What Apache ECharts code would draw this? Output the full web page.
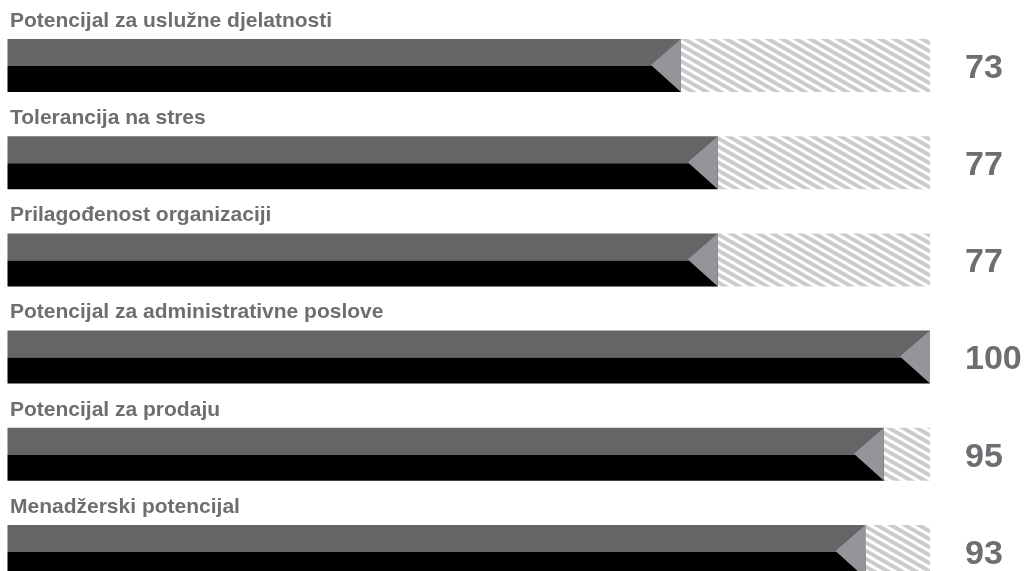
<!DOCTYPE html>
<html>
<head>
<meta charset="utf-8">
<script src="https://cdn.jsdelivr.net/npm/echarts@6/dist/echarts.min.js"></script>
<style>
html,body{margin:0;padding:0;background:#fff;}
#chart{width:1028px;height:571px;}
</style>
</head>
<body>
<div id="chart"></div>
<script>
const categories = [
  'Potencijal za uslužne djelatnosti',
  'Tolerancija na stres',
  'Prilagođenost organizaciji',
  'Potencijal za administrativne poslove',
  'Potencijal za prodaju',
  'Menadžerski potencijal'
];
const values = [73, 77, 77, 100, 95, 93];
const maxValue = 100;

// hatch pattern tile (diagonal stripes, ~30 degrees, going down to the right)
function makeHatch() {
  const w = 14, h = 8;
  const c = document.createElement('canvas');
  c.width = w; c.height = h;
  const ctx = c.getContext('2d');
  ctx.fillStyle = '#ffffff';
  ctx.fillRect(0, 0, w, h);
  ctx.strokeStyle = '#cbcccd';
  ctx.lineWidth = 4.0;
  for (let k = -3; k <= 3; k++) {
    ctx.beginPath();
    ctx.moveTo(-w, k * h - h);
    ctx.lineTo(2 * w, k * h + 2 * h);
    ctx.stroke();
  }
  return c;
}
const hatch = makeHatch();

const chart = echarts.init(document.getElementById('chart'), null, {renderer: 'canvas'});
const FONT = '"Liberation Sans", Arial, Helvetica, sans-serif';

chart.setOption({
  animation: false,
  grid: {left: 7.5, right: 98, top: 65.5, height: 486, outerBoundsMode: 'none'},
  xAxis: {type: 'value', min: 0, max: maxValue, show: false},
  yAxis: {type: 'category', data: categories, inverse: true, boundaryGap: false, show: false},
  series: [{
    type: 'custom',
    data: values.map((v, i) => [v, i]),
    encode: {x: 0, y: 1},
    clip: false,
    renderItem: function (params, api) {
      const v = api.value(0);
      const i = api.value(1);
      const p0 = api.coord([0, i]);
      const pv = api.coord([v, i]);
      const pm = api.coord([maxValue, i]);
      const cy = p0[1];
      const h = 53;
      const top = cy - 26.5;
      const mid = top + 27;
      const bot = top + h;
      const triW = 30;
      const children = [];
      if (pm[0] - pv[0] > 0.5) {
        children.push({
          type: 'rect',
          shape: {x: pv[0], y: top, width: pm[0] - pv[0], height: h},
          style: {fill: {image: hatch, repeat: 'repeat'}}
        });
      }
      children.push({
        type: 'rect',
        shape: {x: p0[0], y: top, width: pv[0] - p0[0], height: mid - top},
        style: {fill: '#646567'}
      });
      children.push({
        type: 'rect',
        shape: {x: p0[0], y: mid, width: pv[0] - p0[0], height: bot - mid},
        style: {fill: '#000000'}
      });
      children.push({
        type: 'polygon',
        shape: {points: [[pv[0], top], [pv[0], bot], [pv[0] - triW, mid - 1]]},
        style: {fill: '#939598'}
      });
      children.push({
        type: 'text',
        style: {
          x: p0[0] + 2.5, y: top - 18,
          text: categories[params.dataIndex],
          fill: '#6d6e71',
          font: 'bold 21px ' + FONT,
          textAlign: 'left', textVerticalAlign: 'middle'
        }
      });
      children.push({
        type: 'text',
        style: {
          x: 965, y: cy + 3,
          text: String(v),
          fill: '#6d6e71',
          font: 'bold 34px ' + FONT,
          textAlign: 'left', textVerticalAlign: 'middle'
        }
      });
      return {type: 'group', children: children};
    }
  }]
});
</script>
</body>
</html>
